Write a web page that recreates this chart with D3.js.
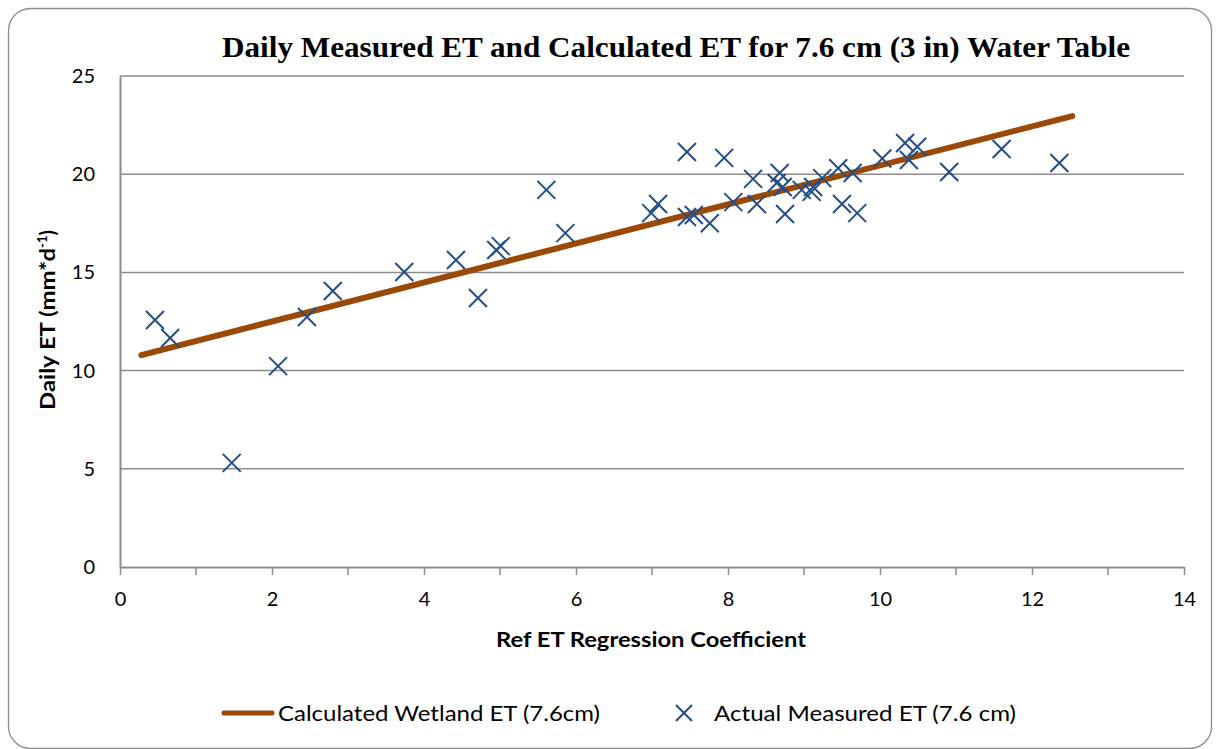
<!DOCTYPE html>
<html>
<head>
<meta charset="utf-8">
<script src="https://cdn.jsdelivr.net/npm/d3@7"></script>
<style>
  body { margin: 0; background: #fff; }
  svg { display: block; }
  text { font-family: Lato, "Open Sans", sans-serif; fill: #000; }
</style>
</head>
<body>
<div id="chart"></div>
<script>
// measured points (x = ref ET regression coefficient, y = daily ET)
const measuredX = [0.46, 0.66, 1.47, 2.08, 2.46, 2.80, 3.74, 4.42, 4.71, 4.95, 5.01, 5.61, 5.86,
    6.99, 7.08, 7.46, 7.46, 7.55, 7.76, 7.95, 8.07, 8.33, 8.38, 8.64, 8.68, 8.72, 8.75, 8.97,
    9.12, 9.10, 9.24, 9.45, 9.50, 9.64, 9.70, 10.03, 10.33, 10.49, 10.38, 10.91, 11.60, 12.36];
const measuredY = [12.58, 11.66, 5.30, 10.23, 12.73, 14.05, 15.02, 15.63, 13.70, 16.14, 16.34, 19.20, 17.00,
    18.02, 18.48, 21.13, 17.82, 17.92, 17.50, 20.83, 18.58, 19.76, 18.48, 19.55, 20.06, 19.35, 17.97, 19.20,
    19.35, 19.10, 19.80, 20.30, 18.48, 20.06, 18.02, 20.80, 21.59, 21.40, 20.72, 20.11, 21.28, 20.57];

// calculated wetland ET line (end points)
const calcX = [0.28, 12.53];
const calcY = [10.79, 22.96];

const xTicks = [0, 2, 4, 6, 8, 10, 12, 14];
const xMinorTicks = [1, 3, 5, 7, 9, 11, 13];
const yTicks = [0, 5, 10, 15, 20, 25];

const width = 1220, height = 749;
const plot = { left: 120, right: 1184, top: 76, bottom: 567 };

const svg = d3.select("#chart").append("svg")
    .attr("width", width)
    .attr("height", height);

// outer chart border
svg.append("rect")
    .attr("x", 8.5).attr("y", 8.5)
    .attr("width", 1203).attr("height", 740)
    .attr("rx", 22).attr("ry", 22)
    .attr("fill", "#fff")
    .attr("stroke", "#8c8c8c")
    .attr("stroke-width", 1.3);

const x = d3.scaleLinear().domain([0, 14]).range([plot.left, plot.right]);
const y = d3.scaleLinear().domain([0, 25]).range([plot.bottom, plot.top]);

// horizontal gridlines
svg.append("g")
    .selectAll("line")
    .data(yTicks.filter(d => d > 0))
    .enter().append("line")
    .attr("x1", plot.left).attr("x2", plot.right)
    .attr("y1", d => y(d)).attr("y2", d => y(d))
    .attr("stroke", "#8c8c8c")
    .attr("stroke-width", 1.5);

// y axis
const yAxis = svg.append("g")
    .attr("transform", `translate(${plot.left},0)`)
    .call(d3.axisLeft(y).tickValues(yTicks).tickSize(0).tickPadding(25));
yAxis.select(".domain").attr("stroke", "#8c8c8c").attr("stroke-width", 2);
yAxis.selectAll("text")
    .style("font-family", "Lato, sans-serif")
    .style("font-size", "20px")
    .attr("fill", "#000");

// x axis
const xAxis = svg.append("g")
    .attr("transform", `translate(0,${plot.bottom})`)
    .call(d3.axisBottom(x).tickValues(xTicks).tickSize(8).tickPadding(17).tickSizeOuter(0));
xAxis.select(".domain").attr("stroke", "#8c8c8c").attr("stroke-width", 2);
xAxis.selectAll(".tick line").attr("stroke", "#8c8c8c").attr("stroke-width", 1.5);
xAxis.selectAll("text")
    .style("font-family", "Lato, sans-serif")
    .style("font-size", "20px")
    .attr("fill", "#000");

svg.append("g")
    .selectAll("line")
    .data(xMinorTicks)
    .enter().append("line")
    .attr("x1", d => x(d)).attr("x2", d => x(d))
    .attr("y1", plot.bottom).attr("y2", plot.bottom + 8)
    .attr("stroke", "#8c8c8c")
    .attr("stroke-width", 1.5);

// calculated line
const calcData = calcX.map((v, i) => ({ x: v, y: calcY[i] }));
svg.append("path")
    .datum(calcData)
    .attr("d", d3.line().x(d => x(d.x)).y(d => y(d.y)))
    .attr("fill", "none")
    .attr("stroke", "#9a4a06")
    .attr("stroke-width", 6)
    .attr("stroke-linecap", "round");

// measured points as X markers
const xMark = (cx, cy, r) => `M${cx - r},${cy - r}L${cx + r},${cy + r}M${cx - r},${cy + r}L${cx + r},${cy - r}`;
const measured = measuredX.map((v, i) => ({ x: v, y: measuredY[i] }));
svg.append("g")
    .selectAll("path")
    .data(measured)
    .enter().append("path")
    .attr("d", d => xMark(x(d.x), y(d.y), 9))
    .attr("stroke", "#254e85")
    .attr("stroke-width", 2)
    .attr("fill", "none");

// title
svg.append("text")
    .attr("x", 676).attr("y", 57)
    .attr("text-anchor", "middle")
    .attr("textLength", 908)
    .attr("lengthAdjust", "spacingAndGlyphs")
    .style("font-family", "'Liberation Serif', 'Times New Roman', serif")
    .style("font-weight", "bold")
    .style("font-size", "30px")
    .text("Daily Measured ET and Calculated ET for 7.6 cm (3 in) Water Table");

// x axis title
svg.append("text")
    .attr("x", 651).attr("y", 647)
    .attr("text-anchor", "middle")
    .attr("textLength", 310)
    .attr("lengthAdjust", "spacingAndGlyphs")
    .style("font-weight", "bold")
    .style("font-size", "20px")
    .text("Ref ET Regression Coefficient");

// y axis title
const yTitle = svg.append("text")
    .attr("transform", "translate(55,320) rotate(-90)")
    .attr("text-anchor", "middle")
    .style("font-weight", "bold")
    .style("font-size", "20px");
yTitle.append("tspan").attr("textLength", 162).attr("lengthAdjust", "spacingAndGlyphs").text("Daily ET (mm*d");
yTitle.append("tspan").attr("dy", -8).style("font-size", "13px").text("-1");
yTitle.append("tspan").attr("dy", 8).text(")");

// legend
const legend = svg.append("g");
legend.append("line")
    .attr("x1", 224).attr("x2", 272)
    .attr("y1", 713).attr("y2", 713)
    .attr("stroke", "#9a4a06")
    .attr("stroke-width", 5)
    .attr("stroke-linecap", "round");
legend.append("text")
    .attr("x", 278).attr("y", 721)
    .attr("textLength", 322)
    .attr("lengthAdjust", "spacingAndGlyphs")
    .style("font-size", "21px")
    .text("Calculated Wetland ET (7.6cm)");
legend.append("path")
    .attr("d", xMark(684, 713, 8))
    .attr("stroke", "#254e85")
    .attr("stroke-width", 2)
    .attr("fill", "none");
legend.append("text")
    .attr("x", 714).attr("y", 721)
    .attr("textLength", 302)
    .attr("lengthAdjust", "spacingAndGlyphs")
    .style("font-size", "21px")
    .text("Actual Measured ET (7.6 cm)");
</script>
</body>
</html>
